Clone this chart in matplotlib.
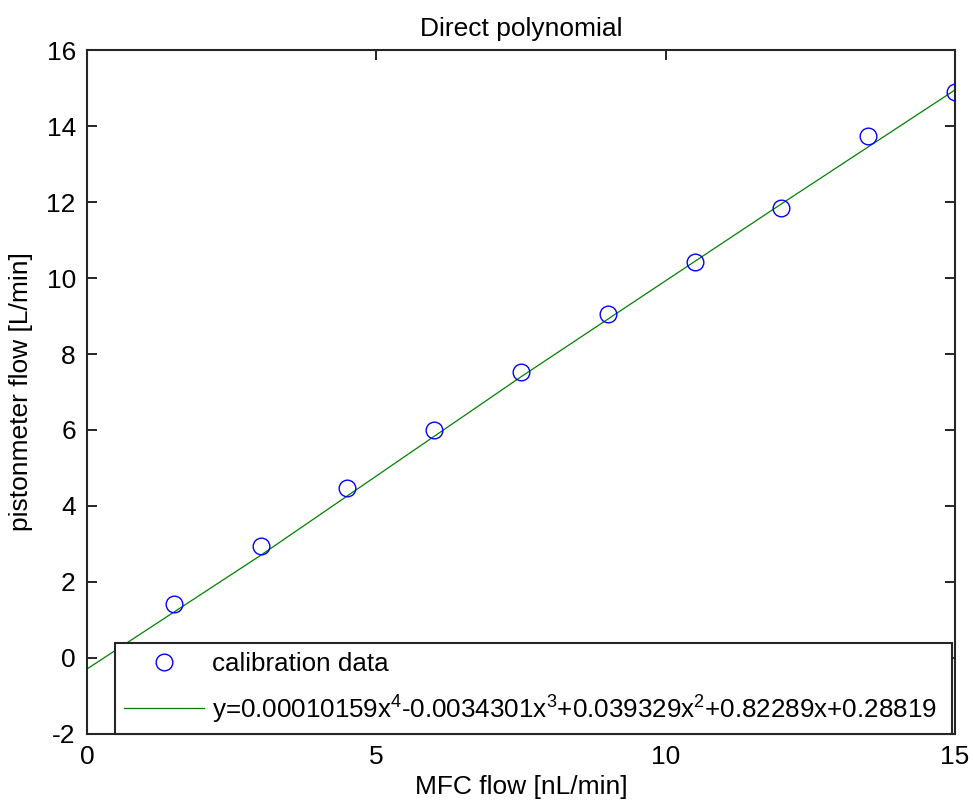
import matplotlib
matplotlib.use("Agg")
import matplotlib.pyplot as plt

# calibration data
mfc_flow = [1.5, 3.0, 4.5, 6.0, 7.5, 9.0, 10.5, 12.0, 13.5, 15.0]
piston_flow = [1.42, 2.95, 4.47, 6.0, 7.53, 9.05, 10.42, 11.84, 13.74, 14.89]

# fitted curve
fit_x = [0.0, 3.0, 7.5, 12.0, 15.0]
fit_y = [-0.29, 2.7, 7.4, 11.95, 14.95]

fit_label = r"y=0.00010159x$^4$-0.0034301x$^3$+0.039329x$^2$+0.82289x+0.28819"

plt.rcParams['font.family'] = ['Liberation Sans', 'DejaVu Sans']
plt.rcParams['mathtext.fontset'] = 'custom'
plt.rcParams['mathtext.rm'] = 'Liberation Sans'
plt.rcParams['axes.unicode_minus'] = False

fig = plt.figure(figsize=(9.74, 8.08), dpi=100)
ax = fig.add_axes([0.0893, 0.0916, 0.8912, 0.8465])

ax.plot(mfc_flow, piston_flow, 'o', mfc='none', mec='blue', ms=12, mew=1.0,
        label='calibration data', zorder=3)
ax.plot(fit_x, fit_y, '-', color='green', lw=0.9, label=fit_label)

ax.set_xlim(0, 15)
ax.set_ylim(-2, 16)
ax.set_xticks([0, 5, 10, 15])
ax.set_yticks(range(-2, 17, 2))
ax.tick_params(direction='in', top=True, right=True, length=7, width=1.2,
               labelsize=19, pad=8)
for s in ax.spines.values():
    s.set_linewidth(1.5)
    s.set_color('#262626')

ax.set_xlabel('MFC flow [nL/min]', fontsize=19, labelpad=4)
ax.set_ylabel('pistonmeter flow [L/min]', fontsize=19, labelpad=10)
ax.set_title('Direct polynomial', fontsize=19, pad=10)

leg = ax.legend(loc='lower left', bbox_to_anchor=(0.032, 0.0, 0.965, 0.135),
                mode='expand', borderaxespad=0, fontsize=18.7, fancybox=False,
                edgecolor='#262626', framealpha=1, handlelength=3.1,
                handletextpad=0.3, labelspacing=0.6, borderpad=0.35)
leg.get_frame().set_linewidth(1.5)

fig.savefig('out.png', dpi=100)
